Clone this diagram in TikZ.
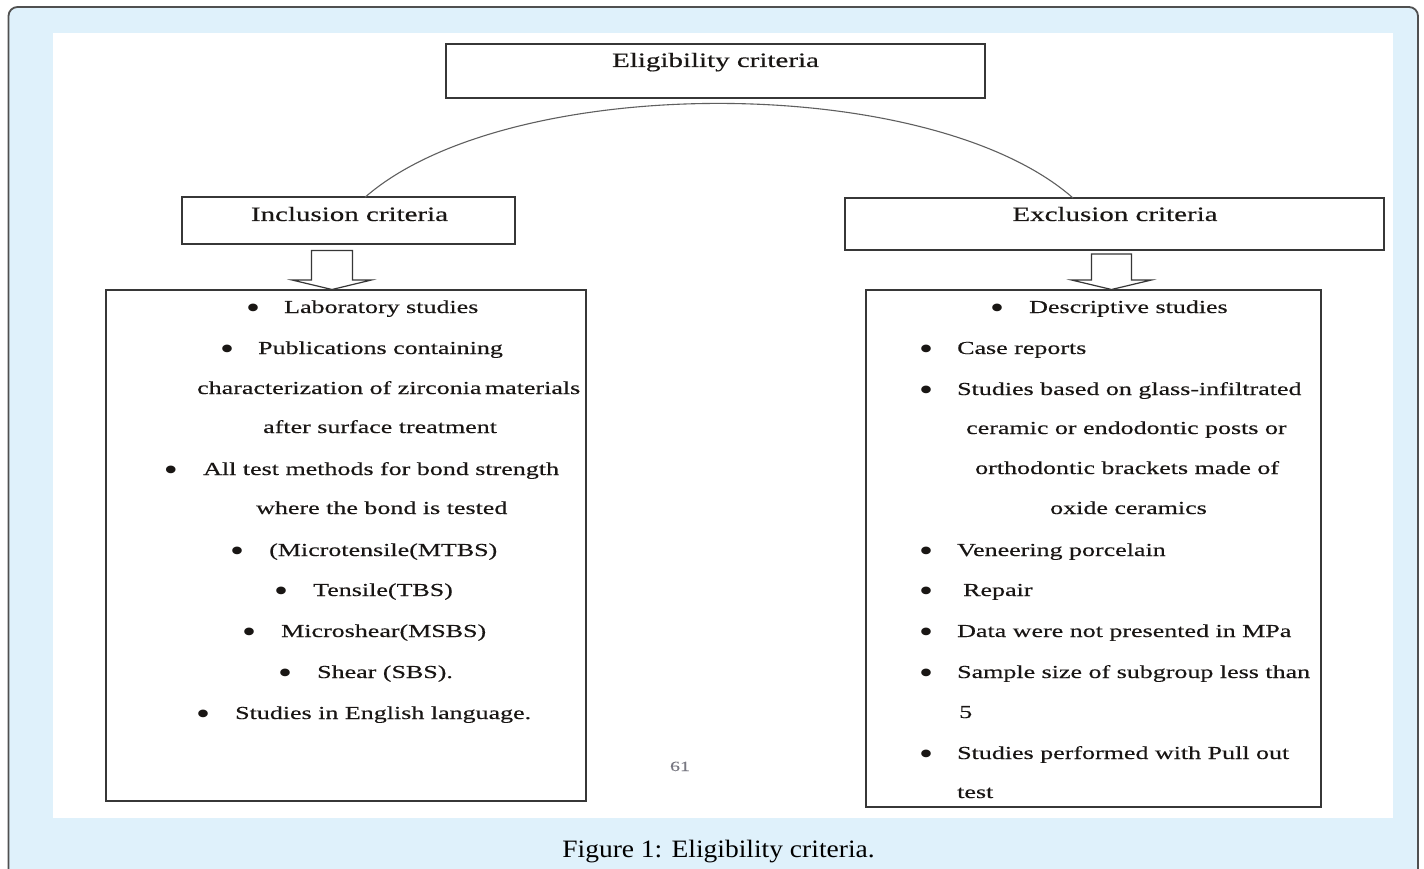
\documentclass[tikz,border=0pt]{standalone}
\usepackage{fontspec}
\setmainfont{Liberation Serif}[FakeStretch=1.42, FakeBold=0.35]
\newfontfamily\bulfont{Liberation Serif}[FakeStretch=1.25]
\newfontfamily\capfont{Liberation Serif}[FakeStretch=1.1]
\definecolor{framefill}{RGB}{223,241,251}
\definecolor{framedraw}{RGB}{80,80,80}
\definecolor{boxdraw}{RGB}{55,55,55}
\definecolor{txt}{RGB}{25,22,20}
\definecolor{pgnum}{RGB}{120,120,130}
\tikzset{
  box/.style={draw=boxdraw, line width=1.4pt, fill=white, inner sep=0pt},
  head/.style={inner sep=0pt, anchor=base, text=txt, font=\fontsize{20.4}{22}\selectfont},
  item/.style={inner sep=0pt, anchor=base west, text=txt, font=\fontsize{18.3}{20}\selectfont},
  bul/.style={inner sep=0pt, anchor=base, text=txt, yshift=-5pt, font=\bulfont\fontsize{32}{32}\selectfont},
  barrow/.style={draw=boxdraw, line width=1.2pt, fill=white, line join=miter},
  arcline/.style={draw=boxdraw!80, line width=1.1pt}
}
\begin{document}
\begin{tikzpicture}[x=1pt, y=-1pt]
\useasboundingbox (0,0) rectangle (1424,869);
\clip (0,0) rectangle (1424,869);
% outer frame
\path[fill=framefill, draw=framedraw, line width=1.8pt, rounded corners=9pt] (8.5,7) rectangle (1418,900);
\fill[white] (53,33) rectangle (1393,818);

% header boxes
\node[box, minimum width=539pt, minimum height=54pt] (elig) at (715.5,71) {};
\node[head] (eligt) at (715.5,67) {Eligibility criteria};
\node[box, minimum width=333pt, minimum height=47pt] (incl) at (348.5,220.5) {};
\node[head] (inclt) at (349.5,221) {Inclusion criteria};
\node[box, minimum width=539pt, minimum height=52pt] (excl) at (1114.5,224) {};
\node[head] (exclt) at (1115,221) {Exclusion criteria};

% arc
\coordinate (aL) at (365,197.3);
\coordinate (aR) at (1073,198);
\draw[arcline] (aL) .. controls (508,72) and (930,72) .. (aR);

% big boxes
\node[box, minimum width=480pt, minimum height=511pt] (inbox) at (346,545.5) {};
\node[box, minimum width=455pt, minimum height=517pt] (exbox) at (1093.5,548.5) {};

% block arrows
\draw[barrow] (311.5,250.5) -- (352.5,250.5) -- (352.5,280) -- (371.5,280) -- (332,289.5) -- (292,280) -- (311.5,280) -- cycle;
\draw[barrow] (1091.5,254) -- (1131.5,254) -- (1131.5,280) -- (1151.5,280) -- (1111.5,289.5) -- (1071.5,280) -- (1091.5,280) -- cycle;

% inclusion items
\node[bul] (ib1) at (253,313) {•};
\node[item] (it1) at (284,313) {Laboratory studies};
\node[bul] (ib2) at (227,354) {•};
\node[item] (it2) at (258,354) {Publications containing};
\node[item] (it3) at (197,394) {characterization of zirconia\kern-3pt{} materials};
\node[item] (it4) at (263,433) {after surface treatment};
\node[bul] (ib5) at (171,475) {•};
\node[item] (it5) at (203,475) {All test methods for bond strength};
\node[item] (it6) at (256,514) {where the bond is tested};
\node[bul] (ib7) at (237,556) {•};
\node[item] (it7) at (269,556) {(Microtensile(MTBS)};
\node[bul] (ib8) at (281,596) {•};
\node[item] (it8) at (313,596) {Tensile(TBS)};
\node[bul] (ib9) at (249,637) {•};
\node[item] (it9) at (281,637) {Microshear(MSBS)};
\node[bul] (ib10) at (285,678) {•};
\node[item] (it10) at (317,678) {Shear (SBS).};
\node[bul] (ib11) at (203,719) {•};
\node[item] (it11) at (235,719) {Studies in English language.};

% exclusion items
\node[bul] (eb1) at (997,313) {•};
\node[item] (et1) at (1029,313) {Descriptive studies};
\node[bul] (eb2) at (926,354) {•};
\node[item] (et2) at (957,354) {Case reports};
\node[bul] (eb3) at (926,395) {•};
\node[item] (et3) at (957,395) {Studies based on glass-infiltrated};
\node[item] (et4) at (966,434) {ceramic or endodontic posts or};
\node[item] (et5) at (975,474) {orthodontic brackets made of};
\node[item] (et6) at (1050,514) {oxide ceramics};
\node[bul] (eb7) at (926,556) {•};
\node[item] (et7) at (957,556) {Veneering porcelain};
\node[bul] (eb8) at (926,596) {•};
\node[item] (et8) at (963,596) {Repair};
\node[bul] (eb9) at (926,637) {•};
\node[item] (et9) at (957,637) {Data were not presented in MPa};
\node[bul] (eb10) at (926,678) {•};
\node[item] (et10) at (957,678) {Sample size of subgroup less than};
\node[item] (et11) at (959,718) {5};
\node[bul] (eb12) at (926,759) {•};
\node[item] (et12) at (957,759) {Studies performed with Pull out};
\node[item] (et13) at (957,798) {test};

% page number
\node[inner sep=0pt, anchor=base, text=pgnum, font=\fontsize{14}{16}\selectfont] (pn) at (680,771) {61};

% caption
\node[inner sep=0pt, anchor=base, text=black, font=\capfont\fontsize{25}{28}\selectfont] (cap) at (718.5,857.5) {Figure 1: Eligibility criteria.};
\end{tikzpicture}
\end{document}
